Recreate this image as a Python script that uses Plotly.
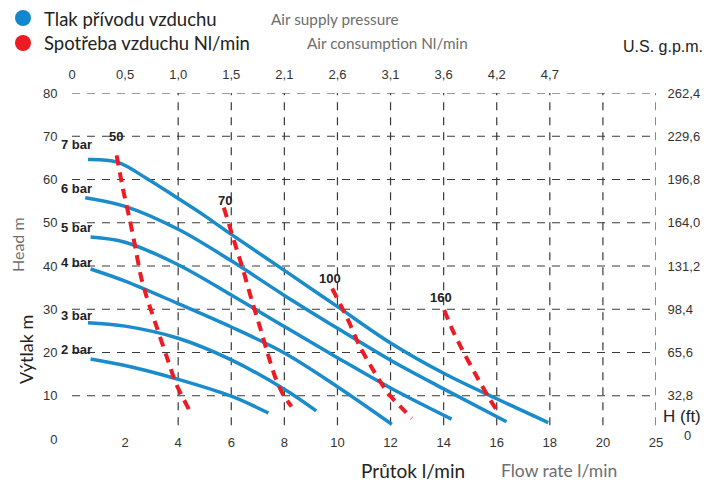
import plotly.graph_objects as go

# ---------------- data ----------------
flow_ticks = [2, 4, 6, 8, 10, 12, 14, 16, 18, 20, 22]
flow_labels = ["2", "4", "6", "8", "10", "12", "14", "16", "18", "20", "25"]
gpm_ticks = [0, 2, 4, 6, 8, 10, 12, 14, 16, 18]
gpm_labels = ["0", "0,5", "1,0", "1,5", "2,1", "2,6", "3,1", "3,6", "4,2", "4,7"]
head_ticks = [0, 10, 20, 30, 40, 50, 60, 70, 80]
ft_ticks = [10, 20, 30, 40, 50, 60, 70, 80]
ft_labels = ["32,8", "65,6", "98,4", "131,2", "164,0", "196,8", "229,6", "262,4"]
grid_x = [4, 6, 8, 10, 12, 14, 16, 18, 20, 22]
grid_y = [10, 20, 30, 40, 50, 60, 70, 80]

pressure_names = ["7 bar", "6 bar", "5 bar", "4 bar", "3 bar", "2 bar"]
p7_flow = [0.6, 1.7, 2.8, 4.0, 5.0, 6.0, 8.0, 10.0, 12.0, 14.0, 16.0, 17.94]
p7_head = [64.6, 64.0, 60.3, 55.6, 51.6, 47.3, 39.0, 30.6, 22.2, 15.2, 9.3, 3.8]
p6_flow = [0.5, 2.0, 4.0, 6.0, 8.0, 10.0, 12.0, 14.0, 16.37]
p6_head = [55.8, 53.8, 48.5, 41.2, 33.2, 25.6, 18.2, 11.6, 4.0]
p5_flow = [0.7, 2.0, 4.0, 6.0, 8.0, 10.0, 12.0, 14.3]
p5_head = [46.7, 45.5, 40.3, 33.3, 26.0, 18.8, 11.8, 4.6]
p4_flow = [0.7, 2.0, 4.0, 6.0, 8.0, 10.0, 12.05]
p4_head = [39.3, 36.5, 31.3, 25.9, 19.9, 12.1, 3.4]
p3_flow = [0.6, 2.0, 4.0, 6.0, 8.0, 9.2]
p3_head = [26.9, 26.1, 23.3, 18.3, 11.5, 6.5]
p2_flow = [0.7, 2.2, 4.0, 6.0, 7.4]
p2_head = [18.5, 16.7, 13.8, 9.9, 6.0]

air_names = ["50", "70", "100", "160"]
a50_flow = [1.68, 1.93, 2.18, 2.37, 2.6, 2.81, 3.19, 3.57, 3.94, 4.42]
a50_head = [65.6, 57.5, 50.6, 44.8, 37.5, 32.9, 25.9, 19.0, 12.5, 6.7]
a70_flow = [5.72, 6.04, 6.45, 6.77, 7.08, 7.33, 7.65, 7.96, 8.27]
a70_head = [53.5, 47.1, 39.0, 32.1, 25.9, 20.6, 14.4, 10.2, 7.5]
a100_flow = [9.8, 10.35, 10.85, 11.35, 11.91, 12.4, 12.8]
a100_head = [34.8, 28.2, 21.3, 15.9, 10.5, 7.3, 4.8]
a160_flow = [14.02, 14.35, 14.68, 15.18, 15.68, 16.05]
a160_head = [29.8, 25.0, 20.9, 15.2, 9.8, 6.2]

# ---------------- style / layout ----------------
W, H = 707, 483
ML, MT = 72, 93
MR = W - 656
MB = H - 439
PW, PH = W - ML - MR, H - MT - MB
BLUE = "#1a8ccb"
RED = "#ec1c24"
DARK = "#222222"
GRAY = "#6e6e6e"
ARIAL = "Liberation Sans, Arial, sans-serif"
TICKF = dict(family=ARIAL, size=13, color="#333333")
TITLEF = "Lato, Open Sans, sans-serif"


def px(x):
    return (x - ML) / PW


def py(y):
    return (MT + PH - y) / PH


fig = go.Figure()

pressure_series = [(p7_flow, p7_head), (p6_flow, p6_head), (p5_flow, p5_head),
                   (p4_flow, p4_head), (p3_flow, p3_head), (p2_flow, p2_head)]
for name, (fx, hy) in zip(pressure_names, pressure_series):
    fig.add_trace(go.Scatter(x=fx, y=hy, mode="lines", name=name,
                             line=dict(color=BLUE, width=3.5, shape="spline", smoothing=1.0),
                             showlegend=False, hoverinfo="skip"))

air_series = [(a50_flow, a50_head), (a70_flow, a70_head), (a100_flow, a100_head), (a160_flow, a160_head)]
for name, (fx, hy) in zip(air_names, air_series):
    fig.add_trace(go.Scatter(x=fx, y=hy, mode="lines", name=name,
                             line=dict(color=RED, width=4, dash="10px,7px", shape="spline", smoothing=0.7),
                             showlegend=False, hoverinfo="skip"))

# invisible trace to activate secondary axes
fig.add_trace(go.Scatter(x=[0], y=[0], xaxis="x2", yaxis="y2", mode="markers",
                         marker=dict(opacity=0), showlegend=False, hoverinfo="skip"))

shapes = []
for gx in grid_x:
    shapes.append(dict(type="line", xref="x", yref="y", x0=gx, x1=gx, y0=3.2, y1=80,
                       line=dict(color="#3a3a3a", width=1.2, dash="8px,7px"), layer="below"))
for gy in grid_y:
    shapes.append(dict(type="line", xref="x", yref="y", x0=0, x1=22, y0=gy, y1=gy,
                       line=dict(color="#3a3a3a", width=1.2, dash="8px,7px"), layer="below"))
# legend dots
for cx, cy, col in [(23, 18, "#1287cd"), (23, 43, RED)]:
    shapes.append(dict(type="circle", xref="paper", yref="paper",
                       x0=px(cx - 8), x1=px(cx + 8), y0=py(cy + 8), y1=py(cy - 8),
                       fillcolor=col, line=dict(width=0)))

ann = []


def text(t, x, y, size, color, family=TITLEF, xanchor="left", angle=0):
    ann.append(dict(text=t, xref="paper", yref="paper",
                    x=px(x), y=py(y), xanchor=xanchor, yanchor="middle", showarrow=False,
                    textangle=angle, font=dict(family=family, size=size, color=color)))


text("Tlak přívodu vzduchu", 42, 19, 18.5, DARK)
text("Air supply pressure", 269, 19, 15.3, GRAY)
text("Spotřeba vzduchu Nl/min", 42, 43, 18.5, DARK)
text("Air consumption Nl/min", 305, 43, 15.3, GRAY)
text("Průtok l/min", 359, 470, 19, DARK)
text("Flow rate l/min", 499, 470, 17.5, GRAY)
text("Výtlak m", 26, 350, 18, DARK, xanchor="center", angle=-90)
text("Head m", 17, 245, 16, GRAY, xanchor="center", angle=-90)
text("U.S. g.p.m.", 705, 47, 16, DARK, family=ARIAL, xanchor="right")
text("H (ft)", 682, 416, 17, DARK, family=ARIAL, xanchor="center")
text("0", 687, 435, 13, "#333333", family=ARIAL, xanchor="center")

# pressure labels (bold, left of the curves)
label_y = [68.0, 58.0, 48.8, 40.9, 28.6, 20.6]
for name, ly in zip(pressure_names, label_y):
    ann.append(dict(text="<b>%s</b>" % name, xref="paper", yref="y", x=px(59), y=ly,
                    xanchor="left", yanchor="middle", showarrow=False,
                    font=dict(family=ARIAL, size=13, color=DARK)))
# air consumption labels above the dashed lines
air_label_pos = [(1.66, 70.0), (5.76, 55.2), (9.72, 37.2), (13.9, 32.8)]
for name, (lx, ly) in zip(air_names, air_label_pos):
    ann.append(dict(text="<b>%s</b>" % name, xref="x", yref="y", x=lx, y=ly,
                    xanchor="center", yanchor="middle", showarrow=False,
                    font=dict(family=ARIAL, size=13, color=DARK)))

fig.update_layout(
    width=W, height=H, margin=dict(l=ML, r=MR, t=MT, b=MB, pad=0),
    paper_bgcolor="white", plot_bgcolor="white",
    xaxis=dict(range=[0, 22], tickvals=flow_ticks, ticktext=flow_labels, showgrid=False,
               zeroline=False, showline=False, ticks="", anchor="free", position=6 / PH,
               tickfont=TICKF, automargin=False),
    xaxis2=dict(range=[0, 22], tickvals=gpm_ticks, ticktext=gpm_labels, overlaying="x",
                side="top", showgrid=False, zeroline=False, showline=False, ticks="outside",
                ticklen=8, tickcolor="rgba(0,0,0,0)", tickfont=TICKF, automargin=False),
    yaxis=dict(range=[0, 80], tickvals=head_ticks, showgrid=False, zeroline=False,
               showline=False, ticks="outside", ticklen=11, tickcolor="rgba(0,0,0,0)",
               tickfont=TICKF, automargin=False),
    yaxis2=dict(range=[0, 80], tickvals=ft_ticks, ticktext=ft_labels, overlaying="y",
                side="right", showgrid=False, zeroline=False, showline=False, ticks="outside",
                ticklen=8, tickcolor="rgba(0,0,0,0)", tickfont=TICKF, automargin=False),
    shapes=shapes, annotations=ann, showlegend=False,
)

fig.write_html("out.html", config={"displayModeBar": False},
               post_script="document.body.style.margin='0';document.body.style.overflow='hidden';")
